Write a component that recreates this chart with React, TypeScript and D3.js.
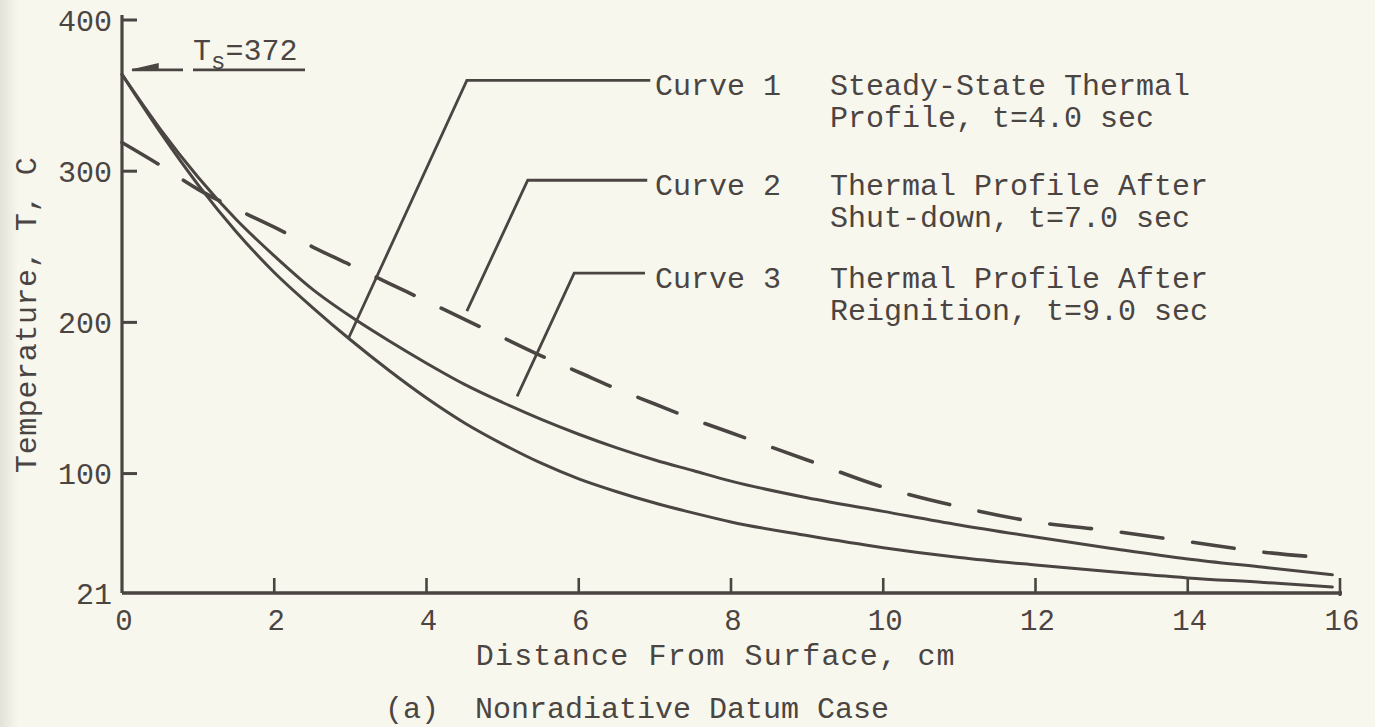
import React from 'react';
import * as d3 from 'd3';

// ---- data ----
const distanceCm = [0, 0.5, 1, 1.5, 2, 2.5, 3, 3.5, 4, 4.5, 5, 5.5, 6, 6.5, 7, 7.5, 8, 9, 10, 11, 12, 13, 14, 15, 15.9];
// Curve 1: steady-state profile t=4.0 s (lower solid)
const curve1Temp = [364, 326, 291, 260, 233, 210, 188.5, 168.5, 150, 133.5, 119.5, 107, 96.5, 88, 80.5, 74, 68, 59, 51, 44.5, 39.5, 35, 31, 28, 25];
// Curve 2: after shut-down t=7.0 s (dashed)
const curve2Temp = [319, 304, 288, 275, 263, 250, 238, 226, 214, 202, 190, 178, 167, 156, 146, 136, 127, 109, 91, 78, 68, 62, 55, 48, 44];
// Curve 3: after reignition t=9.0 s (upper solid)
const curve3Temp = [364, 328, 296, 268, 244, 222, 204, 188, 173, 159, 147, 136, 126, 117, 109, 102, 95, 84, 75, 66, 58, 50.5, 43.5, 38, 33];

const xTicks = [0, 2, 4, 6, 8, 10, 12, 14, 16];
const yTicks = [21, 100, 200, 300, 400];

const curveNames = ['Curve 1', 'Curve 2', 'Curve 3'];
const curveDescLine1 = ['Steady-State Thermal', 'Thermal Profile After', 'Thermal Profile After'];
const curveDescLine2 = ['Profile, t=4.0 sec', 'Shut-down, t=7.0 sec', 'Reignition, t=9.0 sec'];
// leader lines, in data coordinates (cm, °C)
const leaderElbowX = [4.53, 5.33, 5.94];
const leaderElbowT = [360, 294, 232.6];
const leaderEndX = [2.98, 4.53, 5.19];
const leaderEndT = [190, 207.5, 151];
const leaderRightX = [6.94, 6.9, 6.87];

const surfaceTemp = 372;
const surfaceArrowT = 367;

const xTitle = 'Distance From Surface, cm';
const yTitle = 'Temperature, T, C';
const captionTag = '(a)';
const captionText = 'Nonradiative Datum Case';

const INK = '#4a4542';
const BG = '#f8f7ee';
const FONT = '"Liberation Mono", "Courier New", monospace';

export default function App() {
  const W = 1375;
  const H = 727;
  const x = d3.scaleLinear().domain([0, 16]).range([122, 1340]);
  const y = d3.scaleLinear().domain([21, 400]).range([593, 20]);

  const line = d3
    .line<number>()
    .x((_, i) => x(distanceCm[i]))
    .y((d) => y(d))
    .curve(d3.curveMonotoneX);

  const series = [
    { vals: curve1Temp, dash: undefined as string | undefined, w: 3 },
    { vals: curve3Temp, dash: undefined as string | undefined, w: 3 },
    { vals: curve2Temp, dash: '42 30', w: 3.6 },
  ];

  const legendTextX = x(7.0);
  const legendDescX = x(9.3);
  const arrowY = y(surfaceArrowT);

  return (
    <svg
      width={W}
      height={H}
      viewBox={`0 0 ${W} ${H}`}
      style={{ position: 'absolute', left: 0, top: 0, display: 'block' }}
      fontFamily={FONT}
    >
      <defs>
        <linearGradient id="edge" x1="0" x2="1" y1="0" y2="0">
          <stop offset="0" stopColor="#e2e2d8" />
          <stop offset="1" stopColor={BG} />
        </linearGradient>
      </defs>
      <rect x={0} y={0} width={W} height={H} fill={BG} />
      <rect x={0} y={0} width={18} height={H} fill="url(#edge)" />

      {/* axes */}
      <line x1={x(0)} x2={x(0)} y1={y(400) - 5} y2={y(21)} stroke={INK} strokeWidth={3.2} />
      <line x1={x(0)} x2={x(16) + 2} y1={y(21)} y2={y(21)} stroke={INK} strokeWidth={3.4} />

      {yTicks.map((t) => (
        <g key={'yt' + t}>
          {t !== 21 && (
            <line x1={x(0)} x2={x(0) + 15} y1={y(t)} y2={y(t)} stroke={INK} strokeWidth={3} />
          )}
          <text
            x={x(0) - 10}
            y={y(t)}
            dy="0.35em"
            textAnchor="end"
            fontSize={30}
            fill={INK}
          >
            {t}
          </text>
        </g>
      ))}

      {xTicks.map((t) => (
        <g key={'xt' + t}>
          {t !== 0 && (
            <line
              x1={x(t)}
              x2={x(t)}
              y1={y(21) - 15}
              y2={t === 16 ? y(21) + 3 : y(21)}
              stroke={INK}
              strokeWidth={2.6}
            />
          )}
          <text x={x(t) + 2} y={630} textAnchor="middle" fontSize={29} fill={INK}>
            {t}
          </text>
        </g>
      ))}

      {/* axis titles */}
      <text
        x={x(7.8)}
        y={665}
        textAnchor="middle"
        fontSize={30}
        letterSpacing={1.2}
        fill={INK}
      >
        {xTitle}
      </text>
      <text
        transform={`translate(36, ${y(205)}) rotate(-90)`}
        textAnchor="middle"
        fontSize={30}
        letterSpacing={0.6}
        fill={INK}
      >
        {yTitle}
      </text>

      {/* caption */}
      <text x={385} y={718} fontSize={30} fill={INK}>
        {captionTag}
      </text>
      <text x={475} y={718} fontSize={30} fill={INK}>
        {captionText}
      </text>

      {/* curves */}
      {series.map((s, i) => (
        <path
          key={'c' + i}
          d={line(s.vals) || ''}
          fill="none"
          stroke={INK}
          strokeWidth={s.w}
          strokeDasharray={s.dash}
          strokeLinecap="round"
        />
      ))}

      {/* leader lines + legend text */}
      {curveNames.map((name, i) => {
        const ex = x(leaderElbowX[i]);
        const ey = y(leaderElbowT[i]);
        return (
          <g key={'lg' + i}>
            <polyline
              points={`${x(leaderEndX[i])},${y(leaderEndT[i])} ${ex},${ey} ${x(leaderRightX[i])},${ey}`}
              fill="none"
              stroke={INK}
              strokeWidth={2.8}
            />
            <text x={legendTextX} y={ey + 15} fontSize={30} fill={INK}>
              {name}
            </text>
            <text x={legendDescX} y={ey + 15} fontSize={30} fill={INK}>
              {curveDescLine1[i]}
            </text>
            <text x={legendDescX} y={ey + 47} fontSize={30} fill={INK}>
              {curveDescLine2[i]}
            </text>
          </g>
        );
      })}

      {/* surface temperature annotation */}
      <line x1={x(0) + 10} x2={x(0) + 61} y1={arrowY} y2={arrowY} stroke={INK} strokeWidth={2.6} />
      <path
        d={`M${x(0) + 10},${arrowY} L${x(0) + 36},${arrowY - 6} L${x(0) + 36},${arrowY} Z`}
        fill={INK}
        stroke={INK}
        strokeWidth={1.5}
      />
      <line x1={193} x2={305} y1={arrowY} y2={arrowY} stroke={INK} strokeWidth={2.6} />
      <text x={193} y={60} fontSize={30} fill={INK}>
        T
        <tspan dy={9} fontSize={24}>
          s
        </tspan>
        <tspan dy={-9}>={surfaceTemp}</tspan>
      </text>
    </svg>
  );
}
